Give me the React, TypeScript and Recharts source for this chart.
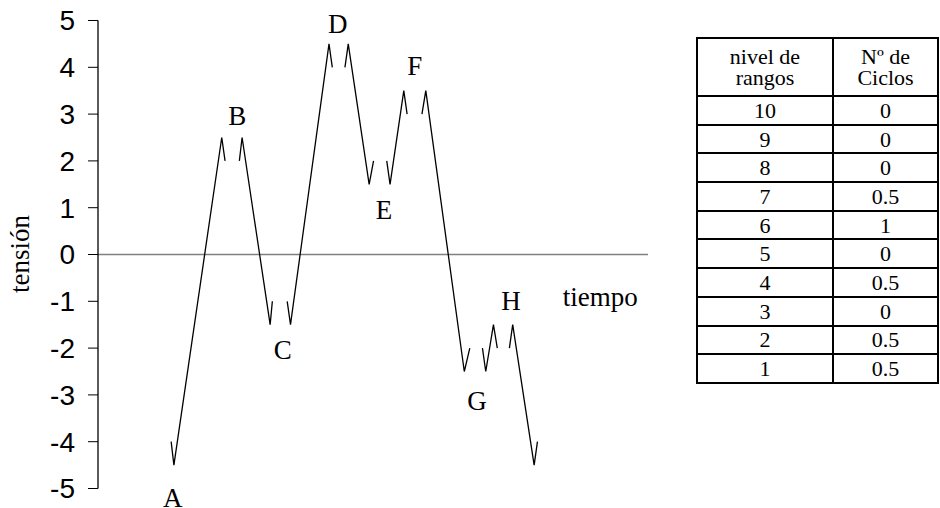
import React from 'react';
import { LineChart, Line, XAxis, YAxis, ReferenceLine, ReferenceDot } from 'recharts';

// time (arbitrary units) and stress values; null separates the drawn strokes
const tiempo = [
  13.3, 13.8, 22.5, 23.1, 24.4,
  25.7, 26.2, 31.3, 31.7, 33.0,
  34.4, 35.0, 42.0, 42.6, 43.7,
  44.9, 45.5, 49.3, 50.1, 51.3,
  52.5, 53.1, 55.6, 56.2, 57.5,
  58.9, 59.6, 66.6, 67.6, 68.7,
  69.9, 70.5, 71.9, 72.6, 73.7,
  74.8, 75.4, 79.3, 79.9,
];
const tension: (number | null)[] = [
  -4, -4.5, 2.5, 2, null,
  2, 2.5, -1.5, -1, null,
  -1, -1.5, 4.5, 4, null,
  4, 4.5, 1.5, 2, null,
  2, 1.5, 3.5, 3, null,
  3, 3.5, -2.5, -2, null,
  -2, -2.5, -1.5, -2, null,
  -2, -1.5, -4.5, -4,
];

const yTicks = [-5, -4, -3, -2, -1, 0, 1, 2, 3, 4, 5];

const etiquetas = ['A', 'B', 'C', 'D', 'E', 'F', 'G', 'H'];
const etiquetaT = [13.6, 25.3, 33.6, 43.6, 52.0, 57.6, 68.9, 75.1];
const etiquetaV = [-5.18, 2.98, -2.02, 4.93, 0.97, 4.05, -3.11, -0.99];

const nivelRangos = [10, 9, 8, 7, 6, 5, 4, 3, 2, 1];
const numCiclos = ['0', '0', '0', '0.5', '1', '0', '0.5', '0', '0.5', '0.5'];

const data = tiempo.map((t, i) => ({ t, v: tension[i] }));

const SERIF = '"Liberation Serif", "Times New Roman", serif';
const SANS = '"Liberation Sans", Arial, sans-serif';

const cellBase: React.CSSProperties = {
  borderLeft: '2px solid #000',
  borderTop: '2px solid #000',
  textAlign: 'center',
  padding: 0,
  fontFamily: SERIF,
  fontSize: 22,
  lineHeight: '21px',
  color: '#000',
};

export default function App() {
  return (
    <div style={{ position: 'absolute', left: 0, top: 0, width: 940, height: 508, background: '#fff' }}>
      <LineChart
        width={940}
        height={508}
        data={data}
        margin={{ top: 20.5, right: 292, bottom: 19.5, left: 0 }}
      >
        <XAxis dataKey="t" type="number" domain={[0, 100]} hide />
        <YAxis
          type="number"
          domain={[-5, 5]}
          ticks={yTicks}
          interval={0}
          width={98}
          tickSize={10}
          tickMargin={13}
          stroke="#000"
          tickLine={{ stroke: '#000' }}
          axisLine={{ stroke: '#000', strokeWidth: 1.3 }}
          tick={{ fontSize: 28, fill: '#000', fontFamily: SANS }}
        />
        <ReferenceLine y={0} stroke="#808080" strokeWidth={1.5} />
        <Line
          dataKey="v"
          stroke="#000"
          strokeWidth={1.3}
          dot={false}
          activeDot={false}
          connectNulls={false}
          isAnimationActive={false}
          strokeLinejoin="miter"
        />
        {etiquetas.map((e, i) => (
          <ReferenceDot
            key={e}
            x={etiquetaT[i]}
            y={etiquetaV[i]}
            r={0}
            fill="none"
            stroke="none"
            ifOverflow="visible"
            label={{ value: e, position: 'center', fontFamily: SERIF, fontSize: 27, fill: '#000' }}
          />
        ))}
        <ReferenceDot
          x={91.3}
          y={-0.89}
          r={0}
          fill="none"
          stroke="none"
          ifOverflow="visible"
          label={{ value: 'tiempo', position: 'center', fontFamily: SERIF, fontSize: 27, fill: '#000' }}
        />
      </LineChart>
      <svg
        width={40}
        height={508}
        style={{ position: 'absolute', left: 0, top: 0, pointerEvents: 'none' }}
      >
        <text
          x={20}
          y={254}
          transform="rotate(-90, 20, 254)"
          textAnchor="middle"
          dominantBaseline="central"
          style={{ fontFamily: SERIF, fontSize: 27, fill: '#000' }}
        >
          tensión
        </text>
      </svg>
      <table
        style={{
          position: 'absolute',
          left: 696,
          top: 37,
          width: 241,
          borderCollapse: 'collapse',
          tableLayout: 'fixed',
          border: '2px solid #000',
        }}
      >
        <colgroup>
          <col style={{ width: 136 }} />
          <col style={{ width: 105 }} />
        </colgroup>
        <tbody>
          <tr style={{ height: 58 }}>
            <td style={cellBase}>nivel de<br />rangos</td>
            <td style={cellBase}>Nº de<br />Ciclos</td>
          </tr>
          {nivelRangos.map((n, i) => (
            <tr key={n} style={{ height: 28.7 }}>
              <td style={cellBase}>{n}</td>
              <td style={cellBase}>{numCiclos[i]}</td>
            </tr>
          ))}
        </tbody>
      </table>
    </div>
  );
}
